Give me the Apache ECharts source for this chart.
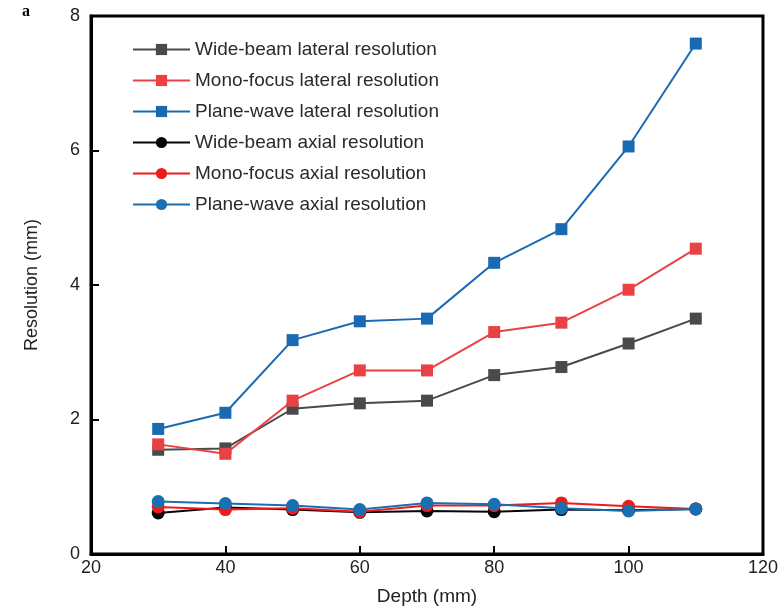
<!DOCTYPE html>
<html>
<head>
<meta charset="utf-8">
<script src="https://cdn.jsdelivr.net/npm/echarts@6/dist/echarts.min.js"></script>
<style>
  html, body { margin: 0; padding: 0; background: #fff; }
  #chart { width: 781px; height: 611px; }
</style>
</head>
<body>
<div id="chart"></div>
<script>
// Imaging depth (mm)
const depths = [30, 40, 50, 60, 70, 80, 90, 100, 110];

// Lateral resolution (mm)
const wideBeamLateral  = [1.55, 1.57, 2.16, 2.24, 2.28, 2.66, 2.78, 3.13, 3.50];
const monoFocusLateral = [1.63, 1.49, 2.28, 2.73, 2.73, 3.30, 3.44, 3.93, 4.54];
const planeWaveLateral = [1.86, 2.10, 3.18, 3.46, 3.50, 4.33, 4.83, 6.06, 7.59];

// Axial resolution (mm)
const wideBeamAxial  = [0.61, 0.69, 0.66, 0.62, 0.64, 0.63, 0.66, 0.65, 0.67];
const monoFocusAxial = [0.70, 0.66, 0.68, 0.63, 0.72, 0.72, 0.76, 0.71, 0.67];
const planeWaveAxial = [0.78, 0.75, 0.72, 0.66, 0.76, 0.74, 0.68, 0.64, 0.67];

const xTicks = [20, 40, 60, 80, 100, 120];
const yTicks = [0, 2, 4, 6, 8];

const FONT = 'Liberation Sans, Arial, sans-serif';

function pairs(vals) {
  return depths.map((d, i) => [d, vals[i]]);
}

function makeSeries(name, vals, color, symbol, size) {
  return {
    name: name,
    type: 'line',
    data: pairs(vals),
    symbol: symbol,
    symbolSize: size,
    showSymbol: true,
    lineStyle: { color: color, width: 2 },
    itemStyle: { color: color },
    emphasis: { disabled: true },
    animation: false
  };
}

const chart = echarts.init(document.getElementById('chart'), null, { renderer: 'canvas' });

chart.setOption({
  backgroundColor: '#fff',
  animation: false,
  title: {
    text: 'a',
    left: 17,
    top: -1,
    textStyle: { fontFamily: 'Liberation Serif, Times New Roman, serif', fontWeight: 'bold', fontSize: 16, color: '#000' }
  },
  grid: {
    left: 91, right: 15, top: 16, bottom: 56,
    show: true,
    borderColor: '#000',
    borderWidth: 3,
    backgroundColor: 'transparent'
  },
  legend: {
    orient: 'vertical',
    left: 127,
    top: 35,
    itemWidth: 57,
    itemHeight: 14,
    itemGap: 12,
    textStyle: { fontFamily: FONT, fontSize: 19, color: '#2a2a2a' },
    data: [
      'Wide-beam lateral resolution',
      'Mono-focus lateral resolution',
      'Plane-wave lateral resolution',
      'Wide-beam axial resolution',
      'Mono-focus axial resolution',
      'Plane-wave axial resolution'
    ]
  },
  xAxis: {
    type: 'value',
    min: 20,
    max: 120,
    interval: 20,
    name: 'Depth (mm)',
    nameLocation: 'middle',
    nameGap: 33,
    nameTextStyle: { fontFamily: FONT, fontSize: 19, color: '#222' },
    axisLine: { lineStyle: { color: '#000', width: 3 } },
    axisTick: { inside: true, length: 8, lineStyle: { color: '#000', width: 2 } },
    axisLabel: {
      fontFamily: FONT, fontSize: 18, color: '#222', margin: 5,
      formatter: v => xTicks.includes(v) ? String(v) : ''
    },
    splitLine: { show: false }
  },
  yAxis: {
    type: 'value',
    min: 0,
    max: 8,
    interval: 2,
    name: 'Resolution (mm)',
    nameLocation: 'middle',
    nameGap: 50,
    nameTextStyle: { fontFamily: FONT, fontSize: 18, color: '#222' },
    axisLine: { lineStyle: { color: '#000', width: 3 } },
    axisTick: { inside: true, length: 8, lineStyle: { color: '#000', width: 2 } },
    axisLabel: {
      fontFamily: FONT, fontSize: 18, color: '#222', margin: 11,
      formatter: v => yTicks.includes(v) ? String(v) : ''
    },
    splitLine: { show: false }
  },
  series: [
    makeSeries('Wide-beam lateral resolution',  wideBeamLateral,  '#4a4a4a', 'rect', 12),
    makeSeries('Mono-focus lateral resolution', monoFocusLateral, '#ea4244', 'rect', 12),
    makeSeries('Plane-wave lateral resolution', planeWaveLateral, '#1a6ab3', 'rect', 12),
    makeSeries('Wide-beam axial resolution',    wideBeamAxial,    '#050505', 'circle', 13),
    makeSeries('Mono-focus axial resolution',   monoFocusAxial,   '#f01a1a', 'circle', 13),
    makeSeries('Plane-wave axial resolution',   planeWaveAxial,   '#1a6fb0', 'circle', 13)
  ]
});
</script>
</body>
</html>
